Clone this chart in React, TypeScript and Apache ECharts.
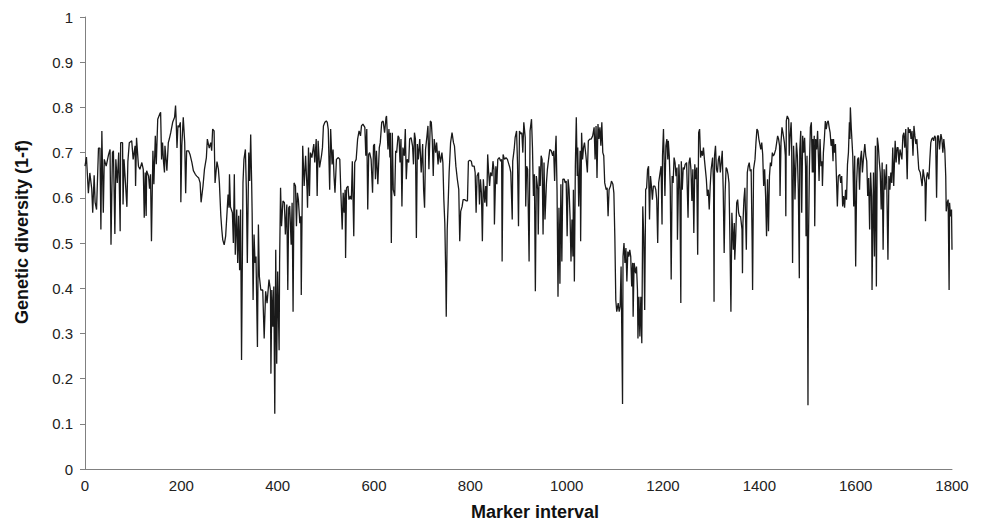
import React, { useEffect, useRef } from "react";
import * as echarts from "echarts";

// Marker interval vs genetic diversity (1-f)
const seg0to300: [number, number][] = [[0,0.67],[3,0.69],[7,0.61],[10,0.655],[14,0.62],[16,0.567],[19,0.65],[21,0.59],[24,0.574],[28,0.71],[31,0.71],[33,0.53],[35,0.748],[38,0.567],[40,0.685],[44,0.67],[49,0.696],[52,0.707],[54,0.496],[57,0.70],[59,0.704],[62,0.52],[64,0.685],[67,0.633],[70,0.70],[73,0.526],[74,0.722],[78,0.722],[79,0.585],[81,0.685],[84,0.633],[87,0.58],[89,0.68],[92,0.722],[97,0.726],[100,0.685],[104,0.715],[105,0.626],[107,0.733],[111,0.67],[114,0.663],[118,0.678],[121,0.663],[123,0.556],[125,0.656],[127,0.56],[128,0.66],[132,0.648],[134,0.62],[136,0.652],[138,0.504],[141,0.704],[143,0.63],[146,0.737],[148,0.674],[151,0.774],[155,0.785],[157,0.789],[159,0.685],[161,0.722],[163,0.68],[165,0.656],[166,0.715],[170,0.66],[173,0.722],[175,0.73],[178,0.744],[182,0.767],[186,0.778],[188,0.804],[189,0.78],[191,0.71],[193,0.76],[195,0.756],[198,0.767],[199,0.59],[201,0.715],[204,0.778],[207,0.722],[209,0.61],[211,0.704],[215,0.704],[218,0.696],[222,0.678],[225,0.66],[229,0.652],[232,0.648],[236,0.644],[239,0.633],[241,0.59],[245,0.626],[248,0.663],[252,0.689],[254,0.73],[256,0.72],[258,0.71],[261,0.722],[263,0.704],[265,0.752],[268,0.748],[270,0.633],[274,0.68],[277,0.663],[279,0.633],[282,0.56],[284,0.53],[286,0.507],[289,0.496],[292,0.515],[295,0.57],[297,0.607],[299,0.578]];

const seg300to600: [number, number][] = [[300,0.652],[302,0.58],[306,0.567],[308,0.50],[310,0.652],[312,0.474],[315,0.574],[317,0.456],[319,0.56],[321,0.44],[323,0.574],[325,0.241],[328,0.633],[330,0.685],[333,0.707],[335,0.618],[337,0.456],[340,0.70],[342,0.637],[344,0.74],[346,0.633],[347,0.567],[349,0.374],[351,0.519],[353,0.456],[355,0.47],[358,0.27],[360,0.541],[362,0.426],[365,0.396],[369,0.396],[372,0.289],[375,0.393],[378,0.367],[382,0.419],[385,0.396],[386,0.211],[388,0.396],[390,0.315],[392,0.404],[394,0.122],[396,0.485],[398,0.233],[400,0.437],[403,0.263],[404,0.456],[406,0.622],[408,0.537],[411,0.593],[414,0.589],[416,0.519],[419,0.585],[421,0.396],[423,0.578],[425,0.582],[428,0.496],[430,0.589],[432,0.348],[434,0.633],[437,0.626],[439,0.537],[441,0.611],[443,0.596],[446,0.544],[448,0.559],[449,0.385],[451,0.604],[452,0.715],[455,0.626],[458,0.693],[461,0.618],[462,0.578],[464,0.711],[466,0.604],[468,0.70],[471,0.689],[475,0.719],[477,0.678],[480,0.73],[482,0.604],[484,0.726],[487,0.667],[491,0.693],[493,0.711],[495,0.759],[498,0.767],[501,0.77],[503,0.767],[505,0.752],[508,0.618],[510,0.752],[513,0.674],[515,0.707],[517,0.648],[519,0.611],[522,0.685],[526,0.689],[529,0.685],[531,0.618],[534,0.53],[536,0.611],[538,0.567],[540,0.618],[541,0.467],[543,0.622],[546,0.626],[548,0.596],[551,0.604],[553,0.596],[555,0.681],[558,0.515],[560,0.678],[563,0.685],[566,0.73],[569,0.748],[572,0.737],[574,0.759],[577,0.763],[581,0.756],[583,0.693],[585,0.752],[587,0.574],[589,0.696],[591,0.70],[594,0.685],[597,0.611],[599,0.715]];

const seg600to900: [number, number][] = [[601,0.719],[603,0.641],[605,0.704],[608,0.63],[611,0.711],[613,0.722],[616,0.767],[619,0.77],[622,0.744],[625,0.778],[626,0.781],[629,0.707],[631,0.752],[633,0.689],[634,0.744],[636,0.50],[638,0.744],[640,0.618],[643,0.604],[645,0.704],[647,0.70],[650,0.737],[652,0.733],[654,0.678],[656,0.73],[658,0.581],[660,0.711],[663,0.693],[665,0.752],[667,0.641],[669,0.685],[672,0.678],[674,0.73],[677,0.733],[680,0.715],[682,0.674],[684,0.744],[686,0.73],[688,0.511],[690,0.719],[692,0.685],[695,0.73],[698,0.656],[701,0.719],[703,0.618],[705,0.578],[707,0.707],[710,0.737],[712,0.759],[714,0.663],[717,0.77],[719,0.767],[721,0.73],[723,0.648],[725,0.73],[728,0.70],[730,0.722],[733,0.674],[735,0.704],[738,0.678],[741,0.70],[743,0.678],[745,0.596],[747,0.544],[749,0.426],[750,0.337],[752,0.53],[754,0.589],[756,0.656],[759,0.722],[762,0.744],[765,0.722],[767,0.715],[770,0.67],[773,0.641],[775,0.626],[776,0.618],[778,0.504],[780,0.57],[783,0.581],[785,0.596],[788,0.596],[792,0.593],[794,0.593],[796,0.681],[799,0.683],[802,0.681],[804,0.67],[808,0.67],[810,0.656],[812,0.567],[814,0.648],[817,0.656],[819,0.585],[821,0.641],[823,0.611],[825,0.504],[827,0.641],[830,0.589],[832,0.626],[834,0.581],[836,0.696],[838,0.656],[840,0.626],[842,0.656],[845,0.648],[847,0.681],[849,0.663],[850,0.541],[853,0.67],[855,0.63],[857,0.685],[860,0.689],[863,0.681],[865,0.685],[866,0.459],[868,0.696],[871,0.685],[874,0.689],[877,0.685],[880,0.674],[882,0.667],[884,0.656],[887,0.552],[888,0.681],[891,0.707],[893,0.733],[896,0.748],[898,0.674],[900,0.537],[902,0.748],[905,0.741],[907,0.744],[909,0.70],[911,0.767]];

const seg900to1200: [number, number][] = [[914,0.733],[915,0.581],[917,0.67],[919,0.663],[922,0.459],[924,0.748],[927,0.774],[929,0.711],[931,0.604],[933,0.652],[935,0.393],[937,0.648],[940,0.618],[941,0.519],[943,0.67],[945,0.626],[947,0.693],[949,0.685],[951,0.519],[953,0.678],[955,0.552],[958,0.633],[960,0.663],[962,0.681],[965,0.707],[968,0.704],[971,0.693],[973,0.704],[975,0.637],[977,0.715],[978,0.737],[980,0.618],[982,0.381],[984,0.578],[986,0.41],[988,0.63],[990,0.459],[992,0.641],[995,0.641],[997,0.633],[999,0.637],[1001,0.515],[1003,0.641],[1005,0.618],[1007,0.559],[1009,0.459],[1011,0.552],[1013,0.47],[1014,0.618],[1016,0.415],[1018,0.67],[1020,0.778],[1022,0.648],[1023,0.711],[1025,0.581],[1028,0.704],[1029,0.504],[1031,0.744],[1033,0.685],[1035,0.711],[1037,0.722],[1040,0.693],[1043,0.656],[1045,0.726],[1048,0.73],[1051,0.73],[1054,0.737],[1057,0.756],[1059,0.685],[1061,0.759],[1063,0.644],[1065,0.763],[1067,0.73],[1069,0.756],[1071,0.715],[1073,0.767],[1075,0.70],[1077,0.693],[1079,0.633],[1082,0.618],[1084,0.622],[1086,0.559],[1088,0.618],[1091,0.626],[1093,0.637],[1096,0.63],[1098,0.611],[1100,0.515],[1102,0.374],[1104,0.348],[1107,0.367],[1109,0.348],[1111,0.359],[1113,0.448],[1116,0.144],[1117,0.47],[1119,0.50],[1121,0.456],[1123,0.489],[1125,0.415],[1127,0.481],[1129,0.47],[1131,0.485],[1133,0.47],[1135,0.404],[1137,0.456],[1138,0.337],[1140,0.456],[1143,0.433],[1145,0.448],[1147,0.396],[1148,0.289],[1150,0.381],[1152,0.293],[1154,0.381],[1156,0.278],[1158,0.581],[1160,0.515],[1162,0.352],[1164,0.618],[1166,0.622],[1168,0.663],[1170,0.67],[1172,0.552],[1174,0.648],[1176,0.626],[1178,0.596],[1180,0.626],[1183,0.626],[1185,0.618],[1187,0.596],[1189,0.50],[1191,0.633],[1194,0.656],[1196,0.67],[1198,0.541],[1199,0.693],[1201,0.752],[1204,0.604],[1206,0.715],[1208,0.73],[1210,0.685]];

const seg1200to1500: [number, number][] = [[1211,0.726],[1213,0.693],[1215,0.626],[1217,0.419],[1219,0.648],[1221,0.633],[1223,0.689],[1225,0.678],[1227,0.648],[1229,0.667],[1230,0.507],[1233,0.674],[1235,0.618],[1237,0.367],[1238,0.681],[1240,0.618],[1242,0.667],[1244,0.663],[1246,0.674],[1249,0.678],[1251,0.596],[1252,0.556],[1254,0.678],[1256,0.689],[1258,0.663],[1260,0.593],[1262,0.663],[1264,0.522],[1266,0.674],[1268,0.641],[1270,0.667],[1272,0.474],[1274,0.744],[1276,0.752],[1278,0.689],[1280,0.704],[1282,0.693],[1284,0.711],[1286,0.685],[1288,0.663],[1290,0.641],[1292,0.604],[1294,0.618],[1296,0.574],[1298,0.626],[1300,0.663],[1303,0.689],[1305,0.626],[1306,0.37],[1307,0.693],[1309,0.715],[1311,0.663],[1313,0.656],[1315,0.685],[1317,0.693],[1319,0.656],[1321,0.678],[1323,0.704],[1325,0.618],[1327,0.478],[1329,0.611],[1331,0.667],[1333,0.663],[1335,0.652],[1337,0.633],[1339,0.507],[1341,0.348],[1343,0.567],[1346,0.485],[1348,0.544],[1349,0.463],[1351,0.515],[1353,0.589],[1355,0.596],[1357,0.567],[1359,0.559],[1361,0.559],[1364,0.53],[1365,0.433],[1366,0.544],[1368,0.596],[1370,0.622],[1373,0.485],[1375,0.656],[1377,0.67],[1379,0.678],[1381,0.659],[1383,0.663],[1385,0.507],[1386,0.396],[1388,0.663],[1391,0.685],[1393,0.722],[1395,0.752],[1397,0.748],[1399,0.73],[1401,0.719],[1403,0.707],[1405,0.722],[1407,0.696],[1409,0.626],[1411,0.663],[1413,0.604],[1415,0.515],[1417,0.641],[1419,0.526],[1421,0.648],[1423,0.678],[1425,0.67],[1427,0.70],[1429,0.693],[1431,0.696],[1434,0.707],[1436,0.722],[1438,0.737],[1440,0.73],[1442,0.715],[1443,0.604],[1445,0.722],[1447,0.756],[1449,0.744],[1452,0.722],[1454,0.693],[1455,0.559],[1456,0.77],[1458,0.781],[1461,0.774],[1462,0.693],[1464,0.737],[1466,0.767],[1467,0.73],[1469,0.456],[1471,0.715],[1473,0.663],[1474,0.596],[1477,0.722],[1479,0.693],[1481,0.618],[1483,0.422],[1484,0.707],[1486,0.748],[1488,0.567],[1490,0.737],[1492,0.70],[1494,0.733],[1496,0.67],[1497,0.515],[1499,0.693],[1501,0.141],[1502,0.50],[1504,0.67],[1506,0.756],[1508,0.767],[1510,0.656]];

const seg1500to1800: [number, number][] = [[1511,0.73],[1512,0.656],[1514,0.737],[1515,0.537],[1517,0.73],[1519,0.707],[1521,0.748],[1523,0.678],[1524,0.637],[1526,0.73],[1528,0.67],[1530,0.681],[1531,0.626],[1533,0.70],[1535,0.73],[1537,0.77],[1539,0.752],[1541,0.767],[1543,0.77],[1545,0.756],[1547,0.744],[1549,0.715],[1551,0.73],[1553,0.681],[1554,0.73],[1556,0.70],[1558,0.719],[1560,0.648],[1562,0.581],[1564,0.648],[1567,0.652],[1569,0.633],[1571,0.648],[1573,0.581],[1575,0.604],[1577,0.578],[1579,0.618],[1581,0.596],[1583,0.674],[1585,0.70],[1587,0.767],[1588,0.73],[1589,0.80],[1591,0.752],[1594,0.693],[1596,0.581],[1598,0.693],[1600,0.448],[1602,0.633],[1604,0.685],[1606,0.689],[1608,0.618],[1610,0.685],[1612,0.704],[1614,0.656],[1616,0.685],[1619,0.719],[1621,0.693],[1623,0.681],[1625,0.604],[1627,0.644],[1629,0.53],[1631,0.656],[1633,0.604],[1634,0.396],[1637,0.656],[1639,0.47],[1641,0.715],[1643,0.404],[1645,0.733],[1647,0.715],[1649,0.681],[1651,0.656],[1653,0.574],[1655,0.678],[1657,0.485],[1659,0.663],[1661,0.618],[1664,0.674],[1666,0.53],[1667,0.463],[1669,0.648],[1671,0.618],[1673,0.656],[1675,0.633],[1677,0.711],[1679,0.626],[1682,0.726],[1684,0.678],[1686,0.711],[1688,0.711],[1690,0.674],[1692,0.707],[1694,0.696],[1696,0.685],[1698,0.737],[1700,0.744],[1702,0.711],[1704,0.752],[1707,0.641],[1709,0.756],[1711,0.744],[1713,0.752],[1715,0.73],[1717,0.748],[1719,0.693],[1721,0.759],[1723,0.737],[1725,0.719],[1727,0.73],[1729,0.696],[1731,0.663],[1734,0.656],[1736,0.641],[1738,0.626],[1740,0.663],[1742,0.648],[1744,0.633],[1745,0.548],[1747,0.644],[1749,0.656],[1752,0.641],[1754,0.685],[1756,0.722],[1758,0.73],[1760,0.733],[1762,0.726],[1764,0.737],[1766,0.733],[1768,0.60],[1770,0.737],[1772,0.737],[1774,0.707],[1777,0.741],[1779,0.73],[1781,0.70],[1783,0.73],[1785,0.707],[1787,0.648],[1788,0.57],[1790,0.589],[1792,0.596],[1794,0.396],[1795,0.589],[1797,0.559],[1799,0.574],[1800,0.485]];

const xTitle = "Marker interval";
const yTitle = "Genetic diversity (1-f)";
const FONT = '"Liberation Sans", Arial, Helvetica, sans-serif';

export default function App() {
  const ref = useRef<HTMLDivElement>(null);
  useEffect(() => {
    if (!ref.current) return;
    const chart = echarts.init(ref.current, undefined, { renderer: "svg" });
    const data = [
      ...seg0to300,
      ...seg300to600,
      ...seg600to900,
      ...seg900to1200,
      ...seg1200to1500,
      ...seg1500to1800,
    ];
    const axisGray = "#808080";
    chart.setOption({
      animation: false,
      backgroundColor: "#ffffff",
      grid: { left: 85, right: 29, top: 17, bottom: 54, containLabel: false },
      xAxis: {
        type: "value",
        min: 0,
        max: 1800,
        interval: 200,
        splitLine: { show: false },
        axisTick: { show: false },
        axisLine: { show: true, onZero: false, lineStyle: { color: axisGray, width: 1 } },
        axisLabel: {
          margin: 9,
          fontSize: 15,
          color: "#222",
          fontFamily: FONT,
          formatter: (v: number) => String(v),
        },
      },
      yAxis: {
        type: "value",
        min: 0,
        max: 1,
        interval: 0.1,
        splitLine: { show: false },
        axisTick: { show: true, length: 5, lineStyle: { color: axisGray } },
        axisLine: { show: true, lineStyle: { color: axisGray, width: 1 } },
        axisLabel: {
          margin: 12,
          fontSize: 15,
          color: "#222",
          fontFamily: FONT,
          formatter: (v: number) => String(Number(v.toFixed(1))),
        },
      },
      graphic: [
        {
          type: "text",
          x: 535,
          y: 521,
          style: {
            text: xTitle,
            align: "center",
            verticalAlign: "bottom",
            font: `bold 18px ${FONT}`,
            fill: "#111",
          },
        },
        {
          type: "text",
          x: 22,
          y: 232,
          rotation: Math.PI / 2,
          style: {
            text: yTitle,
            align: "center",
            verticalAlign: "middle",
            font: `bold 18px ${FONT}`,
            fill: "#111",
          },
        },
      ],
      series: [
        {
          type: "line",
          data,
          showSymbol: false,
          symbol: "none",
          clip: true,
          lineStyle: { color: "#1a1a1a", width: 1.3 },
        },
      ],
    });
    return () => chart.dispose();
  }, []);
  return (
    <div
      ref={ref}
      style={{ position: "fixed", left: 0, top: 0, width: 981, height: 523, background: "#fff" }}
    />
  );
}
